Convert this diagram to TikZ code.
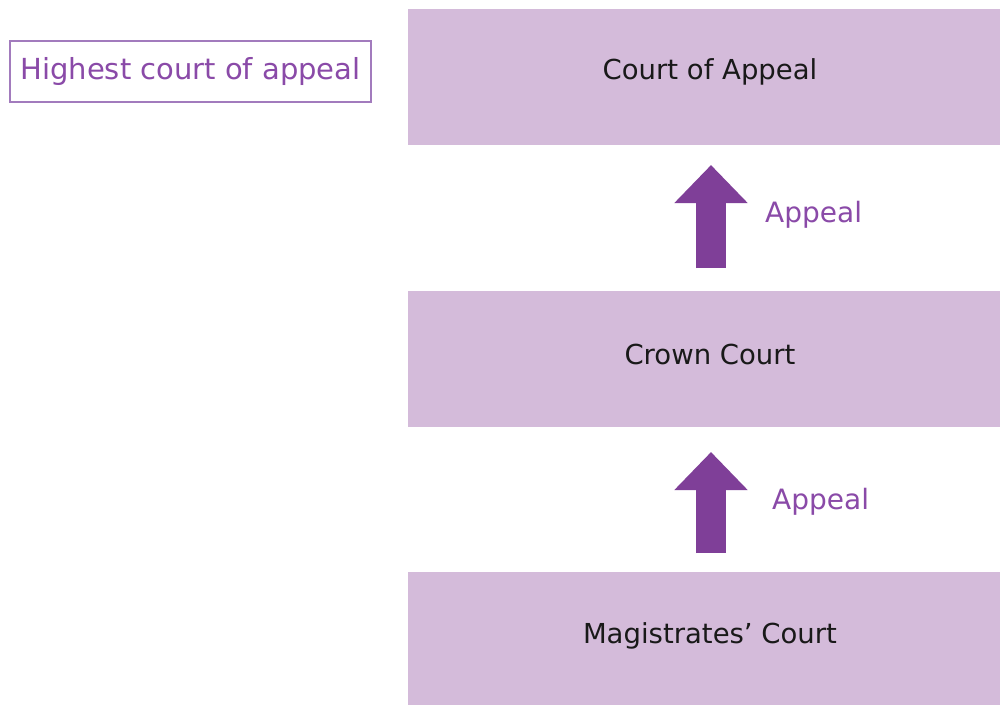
\documentclass[tikz,border=0pt]{standalone}
\usepackage{fontspec}
\setmainfont{DejaVu Sans}
\usetikzlibrary{arrows.meta}
\definecolor{boxfill}{HTML}{D4BBDA}
\definecolor{arrowcol}{HTML}{7F3F98}
\definecolor{purptext}{HTML}{8A4AA8}
\definecolor{labborder}{HTML}{A27BBD}
\tikzset{
  court/.style={fill=boxfill, draw=none, minimum width=592pt, minimum height=136pt, inner sep=0pt, font=\fontsize{27.5}{32}\selectfont, text=black!90},
  appealtxt/.style={font=\fontsize{28}{33}\selectfont, text=purptext, anchor=west, inner sep=0pt},
  uparrow/.style={draw=arrowcol, line width=30pt, -{Triangle[length=38pt,width=71pt]}},
}
\begin{document}
\begin{tikzpicture}[x=1pt,y=-1pt]
\useasboundingbox (0,0) rectangle (1000,704);
\fill[white] (0,0) rectangle (1000,704);
\node[court] (coa) at (704,77) {};
\node[font=\fontsize{27.5}{32}\selectfont, text=black!90] (coat) at (710,72) {Court of Appeal};
\node[court] (cc) at (704,359) {};
\node[font=\fontsize{27.5}{32}\selectfont, text=black!90] (cct) at (710,354) {Crown Court};
\node[court, minimum height=140pt] (mc) at (704,642) {};
\node[font=\fontsize{27.5}{32}\selectfont, text=black!90] (mct) at (710,636) {Magistrates’ Court};
\coordinate (a1s) at (711,268);
\coordinate (a1e) at (711,165);
\draw[uparrow] (a1s) -- (a1e);
\coordinate (a2s) at (711,553);
\coordinate (a2e) at (711,452);
\draw[uparrow] (a2s) -- (a2e);
\node[appealtxt] (ap1) at (765,215) {Appeal};
\node[appealtxt] (ap2) at (772,502) {Appeal};
\node[draw=labborder, line width=1.8pt, minimum width=361pt, minimum height=61pt, inner sep=0pt, font=\fontsize{29}{34}\selectfont, text=purptext] (lab) at (190.5,71.5) {Highest court of appeal};
\end{tikzpicture}
\end{document}
